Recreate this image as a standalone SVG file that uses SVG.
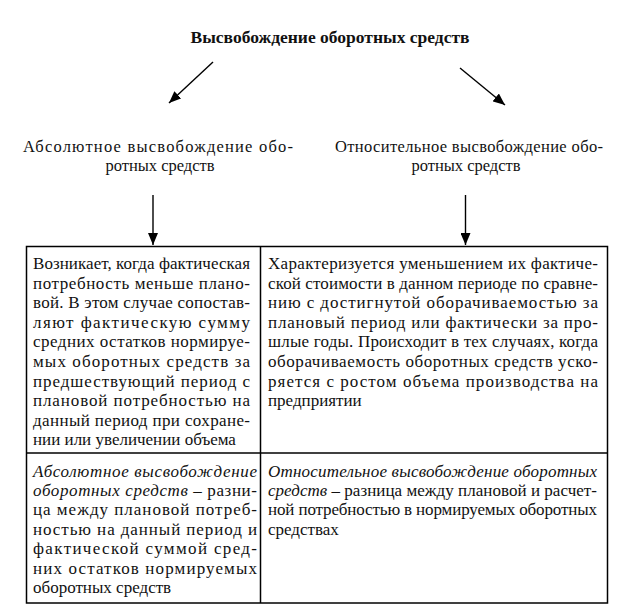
<svg xmlns="http://www.w3.org/2000/svg" width="624" height="616" viewBox="0 0 624 616">
<defs>
<marker id="ah" viewBox="0 0 12 10" refX="12" refY="5" markerWidth="12" markerHeight="10" markerUnits="userSpaceOnUse" orient="auto">
<path d="M0,0 L12,5 L0,10 Z" fill="#000"/>
</marker>
<style>
text{font-family:"Liberation Serif","Times New Roman",serif;font-size:16.5px;fill:#111}
.title{font-weight:bold;font-size:17.5px}
.lbl{font-size:16.5px}
.tb{font-size:17px}
.it{font-style:italic}
.conn line{stroke:#000;stroke-width:1.4;marker-end:url(#ah)}
.cell{fill:none;stroke:#000;stroke-width:1.5}
</style>
</defs>
<rect width="624" height="616" fill="#fff"/>

<g id="root">
<text class="title" x="330" y="43" text-anchor="middle">Высвобождение оборотных средств</text>
</g>

<g id="label-absolute" class="lbl">
<text x="23" y="151.5" textLength="270" lengthAdjust="spacing">Абсолютное высвобождение обо-</text>
<text x="160" y="170.5" text-anchor="middle">ротных средств</text>
</g>

<g id="label-relative" class="lbl">
<text x="335" y="151.5" textLength="268" lengthAdjust="spacing">Относительное высвобождение обо-</text>
<text x="466" y="170.5" text-anchor="middle">ротных средств</text>
</g>

<g id="table">
<rect class="cell" x="26.5" y="246.5" width="581" height="356.5"/>
<line class="cell" x1="260.5" y1="246.5" x2="260.5" y2="603"/>
<line class="cell" x1="26.5" y1="453" x2="607.5" y2="453"/>
</g>

<g id="cell-abs-desc" class="tb">
<text class="tb" x="33" y="269" textLength="217" lengthAdjust="spacing">Возникает, когда фактическая</text>
<text class="tb" x="33" y="288.6" textLength="217" lengthAdjust="spacing">потребность меньше плано-</text>
<text class="tb" x="33" y="308.2" textLength="217" lengthAdjust="spacing">вой. В этом случае сопостав-</text>
<text class="tb" x="33" y="327.8" textLength="217" lengthAdjust="spacing">ляют фактическую сумму</text>
<text class="tb" x="33" y="347.4" textLength="217" lengthAdjust="spacing">средних остатков нормируе-</text>
<text class="tb" x="33" y="367" textLength="217" lengthAdjust="spacing">мых оборотных средств за</text>
<text class="tb" x="33" y="386.6" textLength="217" lengthAdjust="spacing">предшествующий период с</text>
<text class="tb" x="33" y="406.2" textLength="217" lengthAdjust="spacing">плановой потребностью на</text>
<text class="tb" x="33" y="425.8" textLength="217" lengthAdjust="spacing">данный период при сохране-</text>
<text class="tb" x="33" y="445.4">нии или увеличении объема</text>
</g>

<g id="cell-rel-desc">
<text class="tb" x="268" y="269" textLength="330" lengthAdjust="spacing">Характеризуется уменьшением их фактиче-</text>
<text class="tb" x="268" y="288.6" textLength="330" lengthAdjust="spacing">ской стоимости в данном периоде по сравне-</text>
<text class="tb" x="268" y="308.2" textLength="330" lengthAdjust="spacing">нию с достигнутой оборачиваемостью за</text>
<text class="tb" x="268" y="327.8" textLength="330" lengthAdjust="spacing">плановый период или фактически за про-</text>
<text class="tb" x="268" y="347.4" textLength="330" lengthAdjust="spacing">шлые годы. Происходит в тех случаях, когда</text>
<text class="tb" x="268" y="367" textLength="330" lengthAdjust="spacing">оборачиваемость оборотных средств уско-</text>
<text class="tb" x="268" y="386.6" textLength="330" lengthAdjust="spacing">ряется с ростом объема производства на</text>
<text class="tb" x="268" y="406.2">предприятии</text>
</g>

<g id="cell-abs-def">
<text class="tb it" x="33" y="476.5" textLength="224" lengthAdjust="spacing">Абсолютное высвобождение</text>
<text class="tb" x="33" y="495.9" textLength="224" lengthAdjust="spacing"><tspan class="it">оборотных средств</tspan> – разни-</text>
<text class="tb" x="33" y="515.3" textLength="224" lengthAdjust="spacing">ца между плановой потреб-</text>
<text class="tb" x="33" y="534.7" textLength="224" lengthAdjust="spacing">ностью на данный период и</text>
<text class="tb" x="33" y="554.1" textLength="224" lengthAdjust="spacing">фактической суммой сред-</text>
<text class="tb" x="33" y="573.5" textLength="224" lengthAdjust="spacing">них остатков нормируемых</text>
<text class="tb" x="33" y="592.9">оборотных средств</text>
</g>

<g id="cell-rel-def">
<text class="tb it" x="268" y="476.5" textLength="329" lengthAdjust="spacing">Относительное высвобождение оборотных</text>
<text class="tb" x="268" y="495.9" textLength="329" lengthAdjust="spacing"><tspan class="it">средств</tspan> – разница между плановой и расчет-</text>
<text class="tb" x="268" y="515.3" textLength="329" lengthAdjust="spacing">ной потребностью в нормируемых оборотных</text>
<text class="tb" x="268" y="534.7">средствах</text>
</g>

<g id="connectors" class="conn">
<line x1="213" y1="62" x2="169" y2="103"/>
<line x1="460" y1="68" x2="505" y2="105"/>
<line x1="153" y1="195" x2="153" y2="245"/>
<line x1="465.5" y1="195" x2="465.5" y2="245"/>
</g>
</svg>
